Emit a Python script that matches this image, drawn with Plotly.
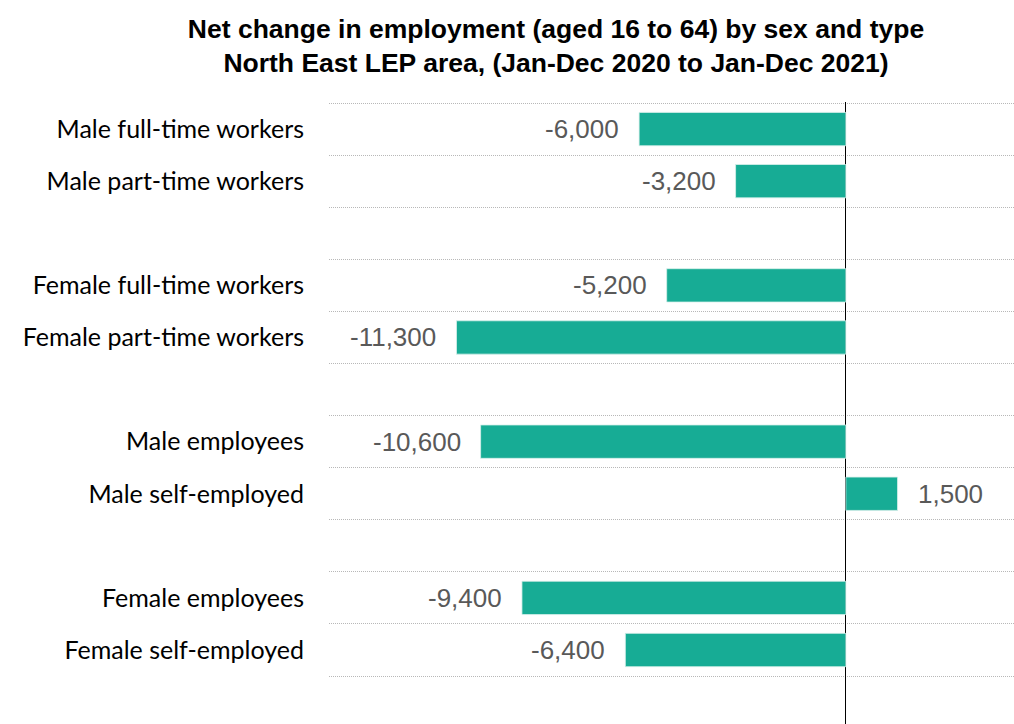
import plotly.graph_objects as go

categories = ["Male full-time workers", "Male part-time workers",
              "Female full-time workers", "Female part-time workers",
              "Male employees", "Male self-employed",
              "Female employees", "Female self-employed"]
values = [-6000, -3200, -5200, -11300, -10600, 1500, -9400, -6400]
rows = [0, 1, 3, 4, 6, 7, 9, 10]
n_rows = 12

labels = [f"{v:,}" for v in values]

fig = go.Figure()
fig.add_trace(go.Bar(
    x=values, y=rows, orientation="h",
    marker=dict(color="#17AC95", line=dict(color="#d8f0eb", width=0.8)),
    width=0.64, hoverinfo="skip",
))

for v, r, t in zip(values, rows, labels):
    fig.add_annotation(
        x=v, y=r, text=t, showarrow=False,
        xanchor="right" if v < 0 else "left",
        xshift=-18 if v < 0 else 18,
        font=dict(family="Liberation Sans, Arial", size=26, color="#595959"),
    )

boundaries = [i - 0.5 for i in range(n_rows)]

fig.update_layout(
    width=1014, height=724,
    margin=dict(l=329, r=0, t=102, b=0),
    paper_bgcolor="white", plot_bgcolor="white",
    showlegend=False,
    title=dict(
        text="<b>Net change in employment (aged 16 to 64) by sex and type<br>North East LEP area, (Jan-Dec 2020 to Jan-Dec 2021)</b>",
        x=556 / 1014, xref="container", xanchor="center",
        y=1 - 37.5 / 724, yref="container", yanchor="middle",
        font=dict(family="Liberation Sans, Arial", size=26.5, color="black"),
    ),
    xaxis=dict(
        range=[-15000, 4880], showgrid=False, showticklabels=False,
        zeroline=True, zerolinecolor="black", zerolinewidth=1.4,
        showline=False, ticks="",
    ),
    yaxis=dict(
        range=[11.42, -0.52], tickmode="array", tickvals=rows, ticktext=categories,
        showgrid=False, zeroline=False, showline=False, ticks="",
        ticklabelstandoff=24,
        tickfont=dict(family="Lato, Open Sans", size=25, color="black"),
        minor=dict(tickmode="array", tickvals=boundaries, showgrid=True,
                   gridcolor="#b8b8b8", gridwidth=1, griddash="1px,1px", ticks=""),
    ),
)

fig.write_html("out.html")
